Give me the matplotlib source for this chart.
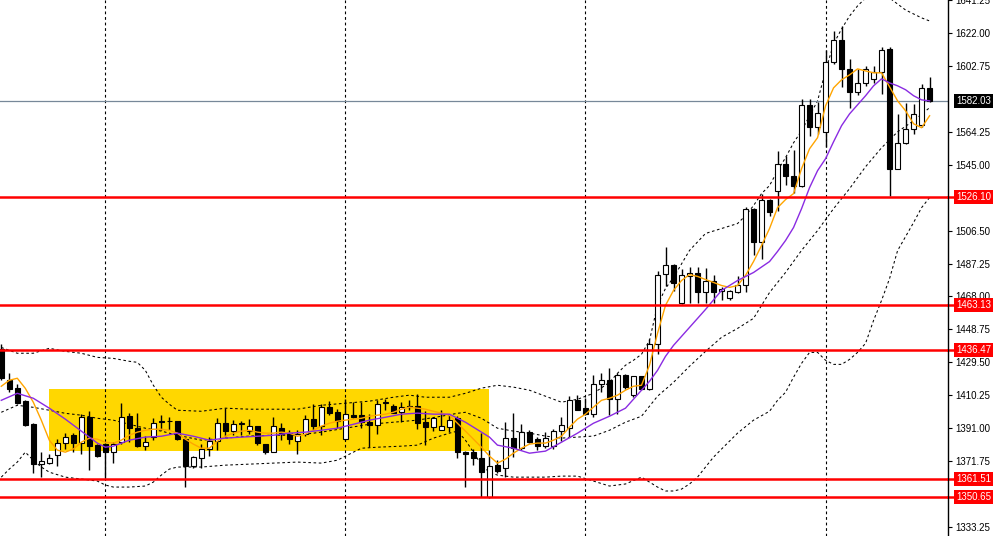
import numpy as np
import matplotlib
matplotlib.use("Agg")
import matplotlib.pyplot as plt
from matplotlib.transforms import blended_transform_factory
from matplotlib.patches import Rectangle

plt.rcParams["font.family"] = ["Liberation Sans", "DejaVu Sans"]

# OHLC for each visible bar (left to right)
opens = [1437.0, 1419.4, 1414.7, 1406.8, 1393.3, 1370.1, 1370.8, 1375.1, 1382.6, 1387.3,
         1382.1, 1397.6, 1381.1, 1381.7, 1376.8, 1383.0, 1398.0, 1391.2, 1380.7, 1386.0,
         1395.0, 1395.0, 1395.1, 1384.6, 1368.8, 1373.5, 1378.6, 1383.4, 1394.3, 1389.4,
         1393.5, 1389.4, 1392.2, 1381.7, 1377.2, 1391.4, 1388.3, 1383.4, 1387.5, 1396.6,
         1392.2, 1403.1, 1400.5, 1384.6, 1398.6, 1398.6, 1394.7, 1392.8, 1406.0, 1403.8,
         1400.3, 1403.5, 1403.8, 1394.7, 1391.8, 1390.2, 1391.8, 1397.2, 1377.2, 1377.2,
         1373.3, 1350.8, 1369.4, 1367.5, 1385.4, 1379.7, 1388.5, 1384.4, 1380.5, 1380.5,
         1389.4, 1391.0, 1407.7, 1403.0, 1399.2, 1417.1, 1419.4, 1408.3, 1421.9, 1410.3,
         1421.3, 1414.2, 1440.0, 1481.2, 1486.6, 1464.3, 1480.2, 1481.8, 1470.5, 1477.3,
         1470.9, 1467.2, 1470.5, 1474.4, 1519.1, 1499.7, 1524.4, 1529.6, 1545.4, 1538.6,
         1532.4, 1579.8, 1566.8, 1563.9, 1605.3, 1617.7, 1600.8, 1587.2, 1592.6, 1595.0,
         1598.9, 1612.5, 1542.5, 1557.4, 1565.8, 1568.3, 1589.7]
highs = [1440.0, 1423.5, 1417.0, 1407.5, 1394.0, 1377.0, 1376.0, 1384.6, 1388.3, 1388.3,
         1399.2, 1400.9, 1381.5, 1382.2, 1383.0, 1405.8, 1400.0, 1400.0, 1386.7, 1397.2,
         1399.0, 1397.6, 1395.5, 1385.0, 1374.7, 1381.5, 1386.0, 1397.2, 1402.9, 1395.7,
         1395.3, 1396.2, 1392.5, 1382.0, 1397.6, 1394.1, 1389.8, 1389.8, 1398.8, 1405.0,
         1405.0, 1407.0, 1402.5, 1408.3, 1406.4, 1406.4, 1399.2, 1407.7, 1408.3, 1405.4,
         1406.4, 1407.7, 1411.2, 1401.1, 1397.6, 1401.5, 1398.6, 1398.0, 1377.6, 1378.6,
         1388.0, 1378.0, 1372.3, 1394.7, 1399.6, 1393.7, 1389.8, 1386.0, 1388.9, 1390.8,
         1397.6, 1409.7, 1410.3, 1408.9, 1422.0, 1423.0, 1426.0, 1423.0, 1422.5, 1421.5,
         1421.5, 1442.9, 1482.8, 1497.0, 1487.0, 1484.1, 1485.0, 1485.0, 1484.7, 1480.3,
         1473.8, 1471.5, 1479.7, 1520.1, 1519.5, 1527.6, 1525.0, 1553.2, 1550.3, 1553.5,
         1583.3, 1583.3, 1581.4, 1611.9, 1623.2, 1626.1, 1606.6, 1600.8, 1602.8, 1602.8,
         1613.8, 1613.8, 1574.9, 1580.8, 1580.4, 1592.1, 1596.3]
lows = [1419.0, 1412.0, 1405.0, 1392.0, 1365.0, 1362.6, 1370.0, 1369.0, 1378.6, 1377.2,
        1376.2, 1366.5, 1374.0, 1362.0, 1370.8, 1381.7, 1383.0, 1380.0, 1378.2, 1384.0,
        1390.0, 1390.0, 1384.0, 1356.4, 1367.5, 1367.7, 1374.9, 1378.2, 1386.0, 1387.0,
        1387.0, 1387.9, 1381.0, 1375.8, 1377.0, 1384.0, 1381.7, 1375.8, 1386.5, 1389.8,
        1387.0, 1398.6, 1391.4, 1384.0, 1397.0, 1391.4, 1380.1, 1387.5, 1401.5, 1400.0,
        1394.7, 1401.5, 1390.8, 1381.1, 1389.4, 1389.8, 1388.9, 1373.3, 1356.8, 1369.4,
        1351.0, 1350.0, 1364.6, 1362.6, 1373.9, 1378.2, 1382.1, 1378.2, 1379.7, 1379.1,
        1383.6, 1386.0, 1401.5, 1398.6, 1397.6, 1412.2, 1398.6, 1399.2, 1414.1, 1409.3,
        1413.2, 1413.5, 1434.6, 1474.0, 1471.1, 1463.8, 1464.0, 1464.1, 1464.1, 1464.1,
        1465.7, 1466.0, 1470.0, 1470.5, 1492.5, 1490.0, 1515.0, 1518.0, 1533.0, 1528.6,
        1532.0, 1561.9, 1562.9, 1555.1, 1603.7, 1590.5, 1578.1, 1585.6, 1591.1, 1593.0,
        1586.6, 1526.9, 1542.3, 1557.0, 1562.9, 1567.2, 1581.4]
closes = [1420.6, 1414.1, 1405.8, 1392.8, 1370.0, 1371.7, 1373.5, 1382.6, 1385.6, 1382.1,
          1397.6, 1380.7, 1374.9, 1376.8, 1381.7, 1397.6, 1391.2, 1380.7, 1383.0, 1394.3,
          1394.6, 1395.1, 1384.6, 1368.8, 1373.9, 1378.6, 1383.4, 1394.3, 1389.4, 1393.7,
          1393.8, 1392.2, 1382.1, 1377.2, 1392.2, 1387.9, 1384.6, 1387.5, 1396.1, 1392.2,
          1403.1, 1400.0, 1395.3, 1399.2, 1397.6, 1394.7, 1392.8, 1405.4, 1406.2, 1400.0,
          1403.1, 1403.4, 1394.1, 1391.8, 1397.0, 1392.2, 1395.7, 1377.2, 1376.2, 1373.3,
          1365.5, 1369.0, 1366.1, 1385.0, 1379.7, 1388.5, 1383.0, 1380.5, 1385.0, 1389.4,
          1392.8, 1407.7, 1401.9, 1399.2, 1417.1, 1419.4, 1408.3, 1421.9, 1415.1, 1421.3,
          1414.2, 1440.0, 1480.8, 1486.6, 1476.0, 1480.6, 1481.6, 1470.5, 1477.3, 1470.5,
          1472.5, 1470.9, 1474.4, 1519.1, 1499.7, 1524.4, 1517.2, 1545.4, 1538.4, 1532.6,
          1579.8, 1566.8, 1575.5, 1605.3, 1617.7, 1600.8, 1587.2, 1592.6, 1600.8, 1598.9,
          1611.9, 1542.5, 1557.4, 1565.8, 1574.6, 1589.7, 1582.03]

# fast moving average (orange), one value per bar
fast_ma = [1415.5, 1419.0, 1420.2, 1414.3, 1406.2, 1395.7, 1384.0, 1378.2, 1377.0, 1378.8,
           1382.8, 1385.2, 1384.6, 1382.8, 1382.3, 1384.0, 1386.9, 1388.7, 1389.8, 1390.4,
           1390.4, 1389.8, 1388.1, 1384.6, 1381.7, 1379.3, 1379.3, 1383.4, 1386.3, 1388.1,
           1389.3, 1389.8, 1388.7, 1388.1, 1388.1, 1388.7, 1388.1, 1386.3, 1387.5, 1389.8,
           1392.2, 1393.9, 1395.1, 1395.7, 1396.3, 1396.8, 1398.0, 1398.6, 1399.2, 1400.3,
           1402.1, 1403.3, 1402.7, 1402.1, 1400.9, 1399.8, 1398.6, 1393.9, 1389.3, 1384.6,
           1379.9, 1374.7, 1370.6, 1372.9, 1376.4, 1379.3, 1381.7, 1382.3, 1382.3, 1384.0,
           1386.3, 1391.6, 1396.3, 1399.2, 1403.3, 1407.3, 1408.5, 1410.3, 1413.2, 1415.5,
           1416.1, 1427.8, 1446.4, 1462.8, 1471.5, 1477.3, 1480.8, 1479.7, 1477.9, 1476.2,
           1474.4, 1473.3, 1474.4, 1480.3, 1488.4, 1497.8, 1507.7, 1519.9, 1524.6, 1528.1,
           1542.7, 1554.3, 1560.8, 1579.4, 1589.9, 1594.6, 1597.5, 1601.0, 1599.8, 1598.7,
           1598.7, 1590.5, 1582.3, 1576.5, 1568.9, 1566.6, 1573.6]

# slow moving average (purple)
slow_idx = [0, 2, 4, 6, 8, 10, 12, 13, 14, 16, 18, 20, 22, 24, 26, 28, 30, 32, 34, 36,
            38, 40, 42, 44, 46, 48, 50, 52, 54, 56, 57, 58, 59, 60, 61, 62, 64, 66, 68, 70,
            72, 74, 76, 78, 80, 81, 82, 83, 84, 86, 88, 90, 92, 94, 96, 97, 98, 99, 100, 101,
            102, 103, 104, 105, 106, 107, 108, 109, 110, 111, 112, 113, 114, 115, 116]
slow_ma = [1407.3, 1411.4, 1408.5, 1402.7, 1396.3, 1389.3, 1382.3, 1379.9, 1380.5, 1384.0,
           1385.8, 1386.3, 1388.1, 1386.3, 1384.0, 1385.2, 1385.8, 1386.3, 1386.9, 1388.1,
           1388.7, 1389.8, 1391.0, 1393.3, 1395.7, 1397.4, 1399.2, 1399.8, 1399.2, 1399.2,
           1396.8, 1394.5, 1391.6, 1388.7, 1385.8, 1381.1, 1379.3, 1376.4, 1377.6, 1382.8,
           1388.1, 1393.9, 1398.0, 1402.7, 1413.2, 1418.4, 1424.8, 1433.0, 1439.4, 1449.9,
           1460.4, 1471.5, 1477.3, 1482.0, 1488.4, 1494.3, 1500.7, 1508.3, 1519.3, 1531.6,
           1541.5, 1548.5, 1558.4, 1567.8, 1574.7, 1580.0, 1585.3, 1591.1, 1595.2, 1592.8,
           1591.1, 1588.8, 1585.3, 1582.9, 1582.3]

# bollinger bands (dashed)
upper_idx = [0, 2, 4, 6, 8, 10, 12, 14, 16, 17, 18, 19, 20, 21, 22, 25, 28, 31, 34, 37,
             40, 43, 46, 49, 51, 53, 56, 58, 60, 62, 64, 66, 68, 70, 72, 74, 76, 77, 78, 79,
             80, 81, 82, 83, 84, 86, 88, 90, 92, 93, 94, 95, 96, 97, 98, 99, 100, 101, 102, 103,
             104, 105, 106, 107, 108, 109, 110, 111, 112, 113, 114, 115, 116]
upper_band = [1438.2, 1434.8, 1434.8, 1437.7, 1435.9, 1434.8, 1432.4, 1431.8, 1430.1, 1429.5,
              1424.8, 1416.1, 1409.1, 1405.0, 1401.5, 1400.9, 1402.7, 1402.1, 1402.1, 1402.1,
              1404.4, 1405.6, 1406.8, 1409.1, 1410.3, 1409.1, 1409.1, 1411.4, 1414.4, 1416.1,
              1415.0, 1413.2, 1409.7, 1406.2, 1407.9, 1411.4, 1417.8, 1423.1, 1427.8, 1430.7,
              1434.2, 1442.3, 1462.8, 1472.7, 1479.1, 1494.9, 1504.8, 1507.7, 1510.6, 1515.2,
              1521.1, 1528.1, 1532.8, 1541.5, 1549.1, 1557.8, 1564.8, 1573.6, 1582.3, 1599.8,
              1615.6, 1624.3, 1631.9, 1637.8, 1642.4, 1645.3, 1645.3, 1642.4, 1638.9, 1635.4,
              1633.1, 1630.8, 1629.0]
mid_idx = [0, 2, 4, 6, 8, 10, 12, 14, 16, 18, 20, 22, 25, 28, 31, 34, 37, 40, 43, 46,
           49, 52, 55, 57, 58, 60, 62, 64, 66, 68, 70, 72, 74, 76, 78, 80, 82, 84, 86, 88,
           90, 92, 94, 96, 98, 100, 102, 104, 106, 108, 110, 112, 114, 116]
mid_band = [1400.3, 1404.4, 1403.2, 1401.5, 1399.7, 1398.6, 1396.8, 1395.7, 1393.3, 1391.0,
            1389.3, 1386.9, 1384.0, 1385.2, 1386.4, 1386.9, 1386.9, 1388.7, 1391.0, 1393.3,
            1394.5, 1395.7, 1398.0, 1399.7, 1400.3, 1396.8, 1391.0, 1389.3, 1388.1, 1386.4,
            1385.2, 1385.8, 1386.4, 1389.8, 1394.5, 1398.0, 1409.7, 1417.8, 1427.2, 1435.9,
            1444.1, 1449.3, 1455.2, 1470.3, 1482.0, 1494.9, 1506.5, 1519.3, 1531.0, 1543.8,
            1554.9, 1564.2, 1570.7, 1578.3]
lower_idx = [0, 1, 2, 3, 4, 5, 6, 8, 10, 12, 13, 14, 16, 18, 19, 20, 21, 22, 25, 28,
             31, 34, 37, 40, 42, 44, 45, 47, 50, 52, 54, 56, 57, 58, 59, 60, 61, 62, 64, 66,
             68, 70, 72, 74, 76, 78, 80, 82, 83, 84, 85, 86, 87, 88, 89, 90, 92, 94, 96, 97,
             98, 99, 100, 101, 102, 103, 104, 105, 106, 107, 108, 109, 110, 111, 112, 113, 114, 115, 116]
lower_band = [1362.4, 1367.1, 1371.2, 1377.0, 1372.3, 1368.3, 1365.3, 1362.4, 1361.3, 1360.1,
              1357.8, 1356.6, 1356.6, 1357.2, 1359.5, 1363.6, 1367.1, 1368.3, 1368.3, 1369.4,
              1370.0, 1370.6, 1371.2, 1370.6, 1372.3, 1377.0, 1379.3, 1379.9, 1380.5, 1381.1,
              1385.2, 1388.1, 1389.3, 1384.0, 1377.0, 1369.4, 1365.3, 1363.6, 1362.4, 1362.4,
              1362.4, 1363.0, 1363.0, 1360.1, 1357.2, 1358.4, 1362.4, 1356.6, 1354.3, 1354.3,
              1355.4, 1358.4, 1362.4, 1368.3, 1374.1, 1378.8, 1388.1, 1395.7, 1400.9, 1407.3,
              1412.0, 1420.8, 1428.9, 1435.3, 1435.3, 1430.7, 1428.3, 1428.3, 1431.2, 1435.3,
              1440.6, 1454.0, 1465.7, 1478.5, 1494.8, 1503.0, 1511.2, 1519.9, 1525.8]

levels = [1526.10, 1463.13, 1436.47, 1361.51, 1350.65]
last_price = 1582.03
grid_bars = [13, 43, 73, 103]
range_box = (6, 61, 1377.8, 1413.8)  # first bar, last bar, bottom, top
ticks = [1641.25, 1622.00, 1602.75, 1564.25, 1545.00, 1506.50, 1487.25, 1468.00,
         1448.75, 1429.50, 1410.25, 1391.00, 1371.75, 1333.25]

fig = plt.figure(figsize=(9.95, 5.36), dpi=100)
ax = fig.add_axes([0, 0, 948 / 995, 1])
ax.set_xlim(-0.16, 118.3)
ax.set_ylim(1328.0, 1640.67)

x = np.arange(len(opens))
o = np.array(opens)
c = np.array(closes)

# consolidation zone
ax.add_patch(Rectangle((range_box[0] - 0.05, range_box[2]), range_box[1] - range_box[0],
                       range_box[3] - range_box[2], facecolor="#FFD700", edgecolor="none", zorder=0))

for g in grid_bars:
    ax.axvline(g, color="black", lw=0.8, ls=(0, (2.5, 2.5)), zorder=1)

band_style = dict(color="black", lw=0.75, ls=(0, (2.5, 2.5)), zorder=2)
ax.plot(upper_idx, upper_band, **band_style)
ax.plot(mid_idx, mid_band, **band_style)
ax.plot(lower_idx, lower_band, **band_style)

# candles
ax.vlines(x, lows, highs, color="black", lw=1.0, zorder=3)
body = np.maximum(np.abs(c - o), 0.45)
colors = ["white" if cc >= oo else "black" for oo, cc in zip(o, c)]
ax.bar(x, body, bottom=np.minimum(o, c), width=0.62, color=colors,
       edgecolor="black", linewidth=0.8, zorder=4)

ax.plot(x, fast_ma, color="#FFA500", lw=1.0, zorder=5)
ax.plot(slow_idx, slow_ma, color="#8A2BE2", lw=1.0, zorder=5)

ax.axhline(last_price, color="#778899", lw=0.9, zorder=2)
for lv in levels:
    ax.axhline(lv, color="#FF0000", lw=1.8, zorder=6)

# right price axis
for s in ["top", "left", "bottom"]:
    ax.spines[s].set_visible(False)
ax.spines["right"].set_linewidth(1.0)
ax.yaxis.tick_right()
ax.set_yticks(ticks)
ax.set_yticklabels([f"{t:.2f}" for t in ticks])
ax.tick_params(axis="y", direction="out", length=3, width=0.8, pad=2, labelsize=7)
ax.set_xticks([])

tr = blended_transform_factory(ax.transAxes, ax.transData)
for lv in levels:
    ax.plot([1.0, 1.01], [lv, lv], color="#FF0000", lw=1.8, transform=tr, clip_on=False)
    ax.text(1.0085, lv, f"{lv:.2f}", transform=tr, ha="left", va="center", fontsize=7,
            color="white", zorder=7,
            bbox=dict(boxstyle="square,pad=0.2", facecolor="#FF0000", edgecolor="none"))
ax.text(1.0085, last_price, f"{last_price:.2f}", transform=tr, ha="left", va="center",
        fontsize=7, color="white", zorder=7,
        bbox=dict(boxstyle="square,pad=0.2", facecolor="black", edgecolor="none"))

fig.savefig("out.png", dpi=100)
